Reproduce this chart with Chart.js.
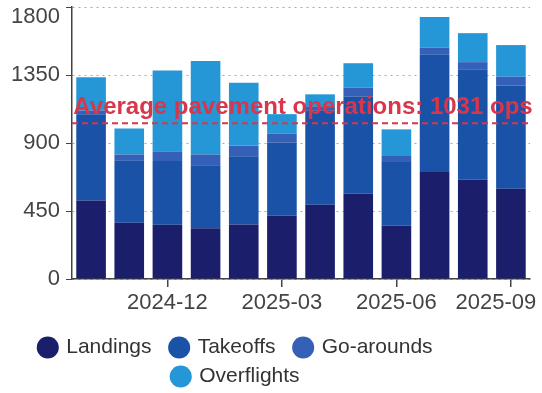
<!DOCTYPE html>
<html><head><meta charset="utf-8">
<script src="https://cdn.jsdelivr.net/npm/chart.js@4.4.1/dist/chart.umd.min.js"></script>
<style>html,body{margin:0;padding:0;background:#fff;}#wrap{width:542px;height:393px;}</style>
</head><body><div id="wrap"><canvas id="c" width="542" height="393"></canvas></div>
<script>
const months = ['2024-10','2024-11','2024-12','2025-01','2025-02','2025-03','2025-04','2025-05','2025-06','2025-07','2025-08','2025-09'];
const landings    = [520,372,359,336,361,420,491,565,354,708,658,598];
const takeoffs    = [570,414,422,416,451,483,622,641,420,780,730,681];
const goArounds   = [25,38,64,72,69,60,30,60,40,44,47,60];
const overflights = [220,172,534,619,418,128,79,162,176,202,192,209];
const yTicks = [0,450,900,1350,1800];
const shownMonths = ['2024-12','2025-03','2025-06','2025-09'];

const pavement = landings.map((v,i)=>v+takeoffs[i]);
const averagePavementOps = Math.round(pavement.reduce((a,b)=>a+b,0)/pavement.length);

const FONT = '"Liberation Sans", Arial, sans-serif';

const avgPlugin = {
  id:'avgLine',
  afterDatasetsDraw(chart){
    const {ctx, chartArea:a, scales:{y}} = chart;
    const py = y.getPixelForValue(averagePavementOps);
    ctx.save();
    ctx.strokeStyle = '#d8364a';
    ctx.lineWidth = 2;
    ctx.setLineDash([6,4]);
    ctx.beginPath(); ctx.moveTo(a.left, py); ctx.lineTo(a.right, py); ctx.stroke();
    ctx.setLineDash([]);
    ctx.fillStyle = '#d8364a';
    ctx.font = 'bold 24px ' + FONT;
    ctx.textAlign = 'center';
    ctx.textBaseline = 'alphabetic';
    ctx.fillText('Average pavement operations: ' + averagePavementOps + ' ops', (a.left+a.right)/2 + 2, py - 9);
    ctx.restore();
  }
};

const tweakPlugin = {
  id:'tweak',
  afterLayout(chart){
    const lg = chart.legend;
    const dx = -59, dy = 4;
    lg.left += dx; lg.right += dx;
    lg.top += dy; lg.bottom += dy;
  },
  beforeDraw(chart){
    chart.scales.y.getLabelItems().forEach(it=>{ if (String(it.label) === '1800') it.options.translation[1] += 10; });
    chart.scales.x.getLabelItems().forEach(it=>{ if (String(it.label) === '2025-09') it.options.translation[0] -= 15; });
  }
};

new Chart(document.getElementById('c'), {
  type:'bar',
  data:{
    labels: months,
    datasets:[
      {label:'Landings', data:landings, backgroundColor:'#1b1f6b'},
      {label:'Takeoffs', data:takeoffs, backgroundColor:'#1a52a8'},
      {label:'Go-arounds', data:goArounds, backgroundColor:'#3460b8'},
      {label:'Overflights', data:overflights, backgroundColor:'#2597d6'}
    ]
  },
  options:{
    responsive:false,
    animation:false,
    devicePixelRatio:1,
    layout:{padding:{top:7,left:0,right:12,bottom:0}},
    datasets:{bar:{categoryPercentage:0.8, barPercentage:0.97, borderWidth:0}},
    scales:{
      x:{
        stacked:true,
        grid:{offset:false, drawOnChartArea:false, drawTicks:true, tickLength:8, tickColor:'#444', lineWidth:1.5},
        border:{display:true, color:'#444', width:1.5},
        ticks:{
          autoSkip:false, maxRotation:0, padding:3, color:'#444',
          font:{family:FONT, size:22},
          callback(v,i){ const m = months[i]; return shownMonths.includes(m) ? m : null; }
        },
        afterFit(s){ s.height = 46; s.paddingLeft = 0; s.paddingRight = 0; }
      },
      y:{
        stacked:true, min:0, max:1800,
        afterBuildTicks(s){ s.ticks = yTicks.map(v=>({value:v})); },
        grid:{color:'#a8a8a8', lineWidth:1, tickColor:'#444', tickLength:6, tickBorderDash:[]},
        border:{display:true, color:'#444', width:1.5, dash:[2,4]},
        ticks:{padding:6, color:'#444', font:{family:FONT, size:22}, callback(v){ return String(v); }},
        afterFit(s){ s.width = 72; s.paddingTop = 0; s.paddingBottom = 0; }
      }
    },
    plugins:{
      legend:{
        position:'bottom',
        fullSize:false,
        labels:{
          usePointStyle:true, pointStyle:'circle', boxWidth:16, boxHeight:15.6,
          padding:8, color:'#333', font:{family:FONT, size:21},
          generateLabels(chart){
            return Chart.defaults.plugins.legend.labels.generateLabels(chart).map(l=>{ l.text = l.text + '  '; return l; });
          }
        }
      },
      tooltip:{enabled:false}
    }
  },
  plugins:[avgPlugin, tweakPlugin]
});
</script></body></html>
